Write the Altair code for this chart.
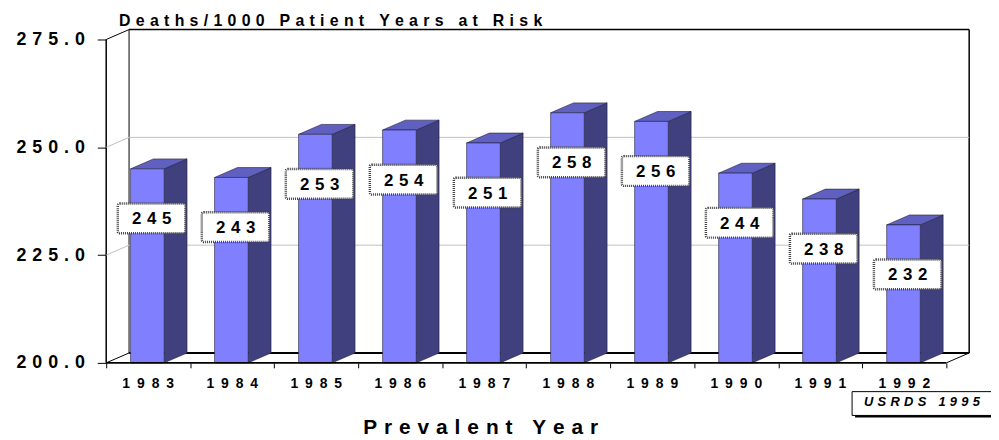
import altair as alt
import pandas as pd

# ---------------- data ----------------
years = ["1983", "1984", "1985", "1986", "1987", "1988", "1989", "1990", "1991", "1992"]
values = [245, 243, 253, 254, 251, 258, 256, 244, 238, 232]
y_ticks = [200, 225, 250, 275]
y_tick_labels = ["200.0", "225.0", "250.0", "275.0"]
title_text = "Deaths/1000 Patient Years at Risk"
x_title = "Prevalent Year"
source_note = "USRDS 1995"

# ---------------- helpers / constants ----------------
FONT = "Liberation Sans"
SEP = "\u2004"


def spaced(s, sep=SEP):
    return sep.join("\u00a0" if c == " " else c for c in s)


N = len(years)
Y0, Y1 = y_ticks[0], y_ticks[-1]
D = 0.272   # 3-D depth along x (band units)
E = 2.3     # 3-D depth along y (value units)
FRONT_L, FRONT_W = 0.29, 0.40
LABEL_DROP = 11.5
BOX_HW, BOX_HH = 0.402, 3.45

FRONT = "#8080FF"
SIDE = "#40407F"
TOP = "#6060C0"
EDGE = "#20203F"

xscale = alt.Scale(domain=[0, N + D], nice=False, zero=False)
yscale = alt.Scale(domain=[Y0, Y1 + E], nice=False, zero=False)

label_expr = " : ".join(
    f"datum.value == {t} ? '{spaced(l)}'" for t, l in zip(y_ticks, y_tick_labels)
) + " : ''"

xaxis = alt.Axis(values=list(range(N + 1)), labels=False, domain=False, grid=False,
                 tickSize=5, tickColor="black", tickWidth=1,
                 title=spaced(x_title), titleFont=FONT, titleFontSize=21,
                 titleFontWeight="bold", titleColor="black",
                 titleX=377, titleY=71, titleAlign="center", titleBaseline="alphabetic")
yaxis = alt.Axis(values=y_ticks, labelExpr=label_expr, labelFont=FONT, labelFontSize=18,
                 labelFontWeight="bold", labelColor="black", labelPadding=13,
                 tickSize=9, tickColor="black", tickWidth=1, domain=False, grid=False,
                 title=None, labelOverlap=False)


def X(f, **kw):
    return alt.X(f, scale=xscale, axis=xaxis, **kw)


def Y(f, **kw):
    return alt.Y(f, scale=yscale, axis=yaxis, **kw)


# ---------------- tables ----------------
bars = pd.DataFrame({
    "year": years,
    "value": values,
    "i": list(range(N)),
})
bars["x0"] = bars["i"] + FRONT_L
bars["x1"] = bars["i"] + FRONT_L + FRONT_W
bars["base"] = Y0
bars["xc"] = bars["i"] + 0.54
bars["ly"] = bars["value"] - LABEL_DROP
bars["bx0"] = bars["xc"] - BOX_HW
bars["bx1"] = bars["xc"] + BOX_HW
bars["by0"] = bars["ly"] - BOX_HH
bars["by1"] = bars["ly"] + BOX_HH
bars["label"] = [spaced(str(v)) for v in values]
bars["ylabel"] = [spaced(y, "\u2002") for y in years]
bars["xm"] = bars["i"] + 0.5

side_rows, top_rows = [], []
for _, r in bars.iterrows():
    side_rows.append({"year": r.year, "x": r.x1, "lo": Y0, "hi": r.value})
    side_rows.append({"year": r.year, "x": r.x1 + D, "lo": Y0 + E, "hi": r.value + E})
    top_rows.append({"year": r.year, "y": r.value, "xa": r.x0, "xb": r.x1})
    top_rows.append({"year": r.year, "y": r.value + E, "xa": r.x0 + D, "xb": r.x1 + D})
side = pd.DataFrame(side_rows)
top = pd.DataFrame(top_rows)

back_lines = [
    (D, Y1 + E, N + D, Y1 + E, "black", 1.5),
    (D, Y0 + E, D, Y1 + E, "black", 1),
    (N + D, Y0 + E, N + D, Y1 + E, "black", 1.5),
    (0, Y1, D, Y1 + E, "black", 1),
    (0, Y0, D, Y0 + E, "black", 1),
    (0, Y0, 0, Y1, "black", 1.5),
    (D, Y0 + E, N + D, Y0 + E, "black", 2),
]
for g in y_ticks[1:-1]:
    back_lines.append((D, g + E, N + D, g + E, "#C0C0C0", 1))
    back_lines.append((0, g, D, g + E, "#C0C0C0", 1))
back = pd.DataFrame(back_lines, columns=["x", "y", "x2", "y2", "c", "w"])

front = pd.DataFrame([
    (0, Y0, N, Y0, "black", 2),
    (N, Y0, N + D, Y0 + E, "black", 1),
], columns=["x", "y", "x2", "y2", "c", "w"])

anno = pd.DataFrame({"x": [N], "y": [Y0], "title_x": [0], "title_y": [Y1 + E],
                     "note": [spaced(source_note)], "title": [spaced(title_text)]})

# ---------------- layers ----------------
rules_back = alt.Chart(back).mark_rule().encode(
    x=X("x:Q"), x2="x2:Q", y=Y("y:Q"), y2="y2:Q",
    color=alt.Color("c:N", scale=None), strokeWidth=alt.StrokeWidth("w:Q", scale=None))

side_faces = alt.Chart(side).mark_area(orient="vertical", color=SIDE, stroke=EDGE,
                                       strokeWidth=0.6, opacity=1).encode(
    x=X("x:Q"), y=Y("lo:Q", stack=None), y2="hi:Q", detail="year:N")

top_faces = alt.Chart(top).mark_area(orient="horizontal", color=TOP, stroke=EDGE,
                                     strokeWidth=0.6, opacity=1).encode(
    y=Y("y:Q"), x=X("xa:Q", stack=None), x2="xb:Q", detail="year:N")

front_faces = alt.Chart(bars).mark_rect(color=FRONT, stroke=EDGE, strokeWidth=0.6).encode(
    x=X("x0:Q"), x2="x1:Q", y=Y("base:Q"), y2="value:Q")

rules_front = alt.Chart(front).mark_rule().encode(
    x=X("x:Q"), x2="x2:Q", y=Y("y:Q"), y2="y2:Q",
    color=alt.Color("c:N", scale=None), strokeWidth=alt.StrokeWidth("w:Q", scale=None))

label_boxes = alt.Chart(bars).mark_rect(fill="white", stroke="#444444", strokeWidth=2.5,
                                        strokeDash=[1, 1], cornerRadius=2).encode(
    x=X("bx0:Q"), x2="bx1:Q", y=Y("by0:Q"), y2="by1:Q")

label_text = alt.Chart(bars).mark_text(font=FONT, fontSize=17, fontWeight="bold",
                                       color="black", baseline="middle", dy=1).encode(
    x=X("xc:Q"), y=Y("ly:Q"), text="label:N")

year_text = alt.Chart(bars).mark_text(font=FONT, fontSize=14, fontWeight="bold",
                                      color="black", baseline="middle", dy=21).encode(
    x=X("xm:Q"), y=Y("base:Q"), text="ylabel:N")

title_mark = alt.Chart(anno).mark_text(font=FONT, fontSize=16, fontWeight="bold",
                                       color="black", align="left", baseline="alphabetic",
                                       dx=13, dy=-4).encode(
    x=X("title_x:Q"), y=Y("title_y:Q"), text="title:N")

note_shadow = alt.Chart(anno).mark_rect(color="black", xOffset=-92, x2Offset=53,
                                        yOffset=31, y2Offset=55).encode(
    x=X("x:Q"), x2="x:Q", y=Y("y:Q"), y2="y:Q")
note_box = alt.Chart(anno).mark_rect(fill="white", stroke="black", strokeWidth=1,
                                     xOffset=-95, x2Offset=50, yOffset=29, y2Offset=53).encode(
    x=X("x:Q"), x2="x:Q", y=Y("y:Q"), y2="y:Q")
note_text = alt.Chart(anno).mark_text(font=FONT, fontSize=13, fontWeight="bold",
                                      fontStyle="italic", color="black", align="left",
                                      baseline="alphabetic", dx=-83, dy=43).encode(
    x=X("x:Q"), y=Y("y:Q"), text="note:N")

chart = alt.layer(
    rules_back, side_faces, top_faces, front_faces, rules_front,
    label_boxes, label_text, year_text, title_mark,
    note_shadow, note_box, note_text,
).properties(
    width=870, height=336,
    padding={"left": 99, "top": 20, "right": 22, "bottom": 76},
    autosize=alt.AutoSizeParams(type="none"),
    background="white",
).configure_view(stroke=None)

chart.save("out.html", embed_options={"renderer": "svg", "actions": False})
